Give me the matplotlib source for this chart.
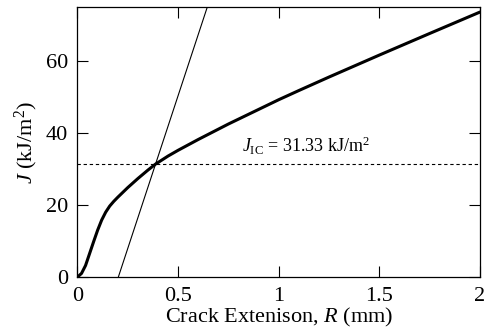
import matplotlib
matplotlib.use("Agg")
import matplotlib.pyplot as plt

# J-R resistance curve (crack extension in mm, J in kJ/m^2)
crack_ext = [0.0, 0.02, 0.04, 0.06, 0.08, 0.10, 0.12, 0.14, 0.16, 0.18,
             0.20, 0.25, 0.30, 0.35, 0.387, 0.45, 0.50, 0.60, 0.675, 0.75,
             0.80, 0.90, 1.0, 1.1, 1.25, 1.5, 1.75, 2.0]
j_values = [0.0, 1.0, 3.2, 6.5, 9.8, 13.0, 15.8, 18.0, 19.7, 21.0,
            22.15, 24.85, 27.35, 29.7, 31.33, 33.6, 35.2, 38.2, 40.35, 42.5,
            43.85, 46.55, 49.25, 51.8, 55.55, 61.65, 67.65, 73.6]

# blunting line, offset 0.2 mm
blunt_x = [0.203, 0.645]
blunt_j = [0.0, 75.0]

j_ic = 31.33

plt.rcParams["font.family"] = "Liberation Serif"
plt.rcParams["mathtext.fontset"] = "custom"
plt.rcParams["mathtext.rm"] = "Liberation Serif"
plt.rcParams["mathtext.it"] = "Liberation Serif:italic"

fig = plt.figure(figsize=(4.89, 3.33), dpi=100)
ax = fig.add_axes([77.5 / 489, 56 / 333, 402.5 / 489, 270 / 333])

ax.plot(crack_ext, j_values, color="black", lw=2.2,
        solid_capstyle="round", solid_joinstyle="round")
ax.plot(blunt_x, blunt_j, color="black", lw=0.8)
ax.axhline(j_ic, color="black", lw=0.8, ls=(0, (3, 2.5)))

ax.text(0.815, 34.6, r"$J_{\mathrm{IC}}$ = %.2f kJ/m$^2$" % j_ic,
        fontsize=13, ha="left", va="baseline")

ax.set_xlim(0, 2)
ax.set_ylim(0, 75)
ax.set_xticks([0, 0.5, 1, 1.5, 2])
ax.set_xticklabels(["0", "0.5", "1", "1.5", "2"])
ax.set_yticks([0, 20, 40, 60])

ax.tick_params(direction="in", length=8, width=0.8, labelsize=16,
               top=True, right=True)
ax.tick_params(axis="x", pad=7.5)
ax.tick_params(axis="y", pad=7)
for sp in ax.spines.values():
    sp.set_linewidth(0.9)

ax.set_xlabel(r"Crack Extenison, $R$ (mm)", fontsize=16, labelpad=0)
ax.set_ylabel(r"$J$ (kJ/m$^2$)", fontsize=16, labelpad=4)

fig.savefig("out.png", dpi=100)
